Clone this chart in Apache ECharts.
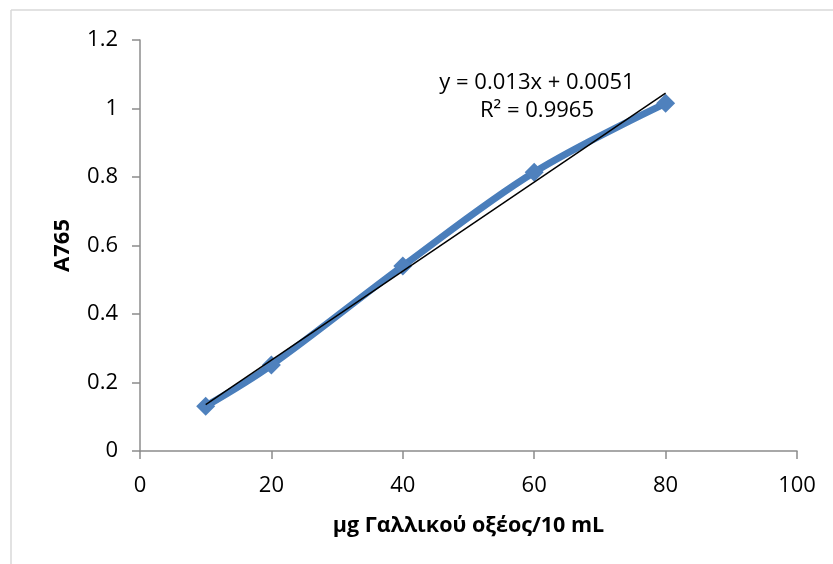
<!DOCTYPE html>
<html>
<head>
<meta charset="utf-8">
<script src="https://cdn.jsdelivr.net/npm/echarts@6/dist/echarts.min.js"></script>
<style>html,body{margin:0;padding:0;background:#fff;}#c{width:833px;height:564px;}</style>
</head>
<body>
<div id="c"></div>
<script>
const xValues = [10, 20, 40, 60, 80];
const yValues = [0.131, 0.251, 0.54, 0.814, 1.015];
const trendX = [10, 80];
const slope = 0.013;
const intercept = 0.0051;
const xTicks = [0, 20, 40, 60, 80, 100];
const yTicks = [0, 0.2, 0.4, 0.6, 0.8, 1, 1.2];
const eqText = 'y = 0.013x + 0.0051';
const r2Text = 'R² = 0.9965';
const xName = 'μg Γαλλικού οξέος/10 mL';
const yName = 'A765';

const font = '"Open Sans", sans-serif';
const chart = echarts.init(document.getElementById('c'));
const axisCommon = {
  axisLine: {show: true, lineStyle: {color: '#8c8c8c', width: 1.5}},
  axisTick: {show: true, inside: false, length: 8, lineStyle: {color: '#8c8c8c', width: 1.5}},
  splitLine: {show: false},
  axisLabel: {color: '#000', fontFamily: font, fontSize: 22},
  nameLocation: 'middle'
};
chart.setOption({
  animation: false,
  grid: {left: 140, right: 36, top: 40, bottom: 113},
  xAxis: Object.assign({}, axisCommon, {
    type: 'value', min: xTicks[0], max: xTicks[xTicks.length - 1], interval: 20,
    name: xName, nameGap: 64,
    nameTextStyle: {color: '#000', fontFamily: font, fontSize: 21.5, fontWeight: 'bold'},
    axisLabel: Object.assign({}, axisCommon.axisLabel, {margin: 24})
  }),
  yAxis: Object.assign({}, axisCommon, {
    type: 'value', min: yTicks[0], max: yTicks[yTicks.length - 1], interval: 0.2,
    name: yName, nameGap: 66,
    nameTextStyle: {color: '#000', fontFamily: font, fontSize: 22, fontWeight: 'bold'},
    axisLabel: Object.assign({}, axisCommon.axisLabel, {margin: 22,
      formatter: v => String(Math.round(v * 10) / 10)})
  }),
  series: [
    {
      type: 'line',
      data: xValues.map((x, i) => [x, yValues[i]]),
      smooth: 0.35,
      symbol: 'diamond',
      symbolSize: 19,
      lineStyle: {color: '#4a7ebb', width: 7},
      itemStyle: {color: '#4f81bd'},
      z: 2
    },
    {
      type: 'line',
      data: trendX.map(x => [x, slope * x + intercept]),
      symbol: 'none',
      lineStyle: {color: '#000', width: 1.5},
      z: 3
    }
  ],
  graphic: [
    {type: 'line', shape: {x1: 11, y1: 10, x2: 833, y2: 10}, style: {stroke: '#d9d9d9', lineWidth: 1.5}},
    {type: 'line', shape: {x1: 11, y1: 10, x2: 11, y2: 564}, style: {stroke: '#d9d9d9', lineWidth: 1.5}},
    {type: 'text', x: 537, y: 83, style: {text: eqText, fill: '#000', font: '22px ' + font, textAlign: 'center', textVerticalAlign: 'middle'}},
    {type: 'text', x: 537, y: 111, style: {text: r2Text, fill: '#000', font: '22px ' + font, textAlign: 'center', textVerticalAlign: 'middle'}}
  ]
});
</script>
</body>
</html>
